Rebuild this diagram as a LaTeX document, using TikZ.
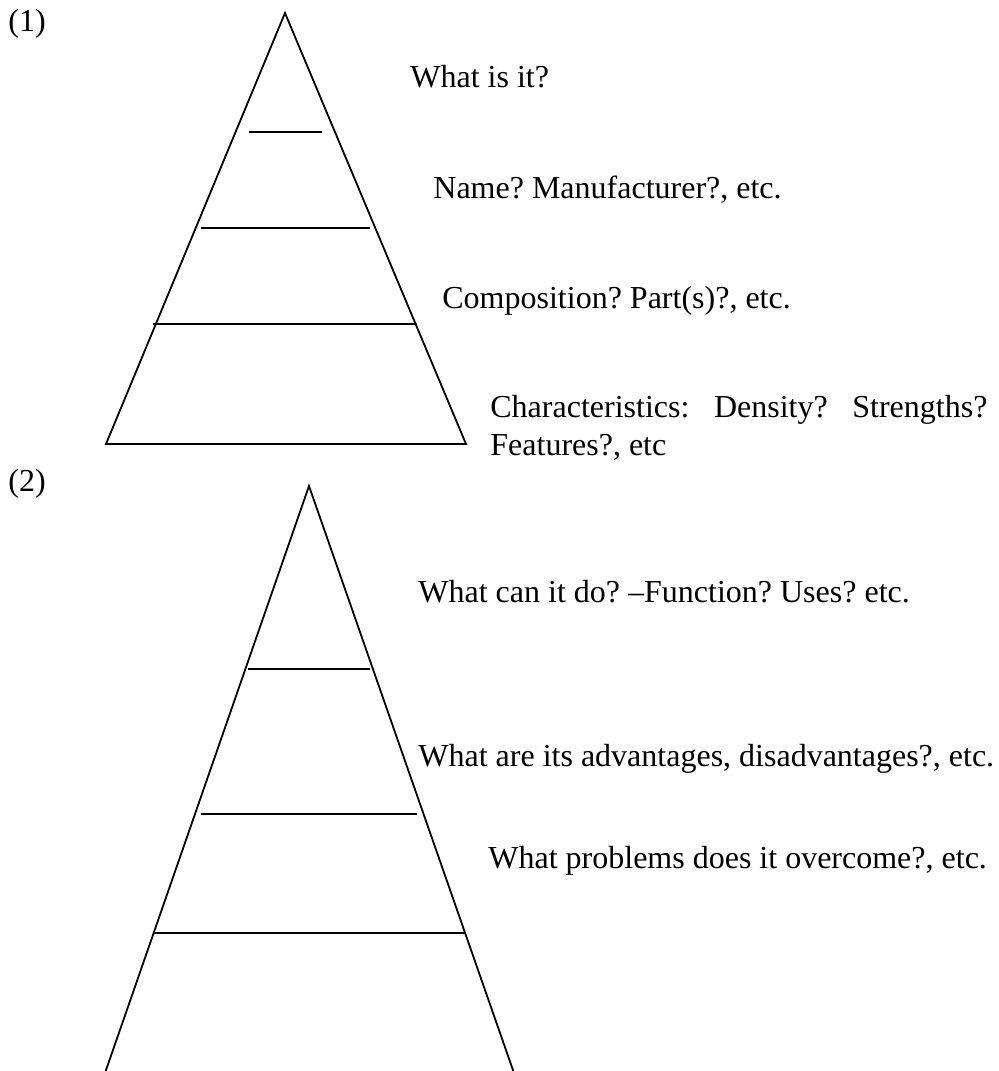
\documentclass[tikz,border=0pt]{standalone}
\usepackage{fontspec}
\setmainfont{Liberation Serif}
\begin{document}
\frenchspacing
\begin{tikzpicture}[x=0.5pt,y=-0.5pt,
  lbl/.style={anchor=base west, inner sep=0pt, font=\fontsize{16}{18.5}\selectfont\frenchspacing},
  edge/.style={line width=0.9pt, line join=miter},
  rung/.style={line width=1.1pt}]
\useasboundingbox (0,0) rectangle (998,1071);
% ---------- pyramid (1)
\coordinate (a1) at (285,13);
\coordinate (bl1) at (106,444);
\coordinate (br1) at (466,444);
\draw[edge] (a1) -- (br1) -- (bl1) -- cycle;
\draw[rung] (249,132) -- (322,132);
\draw[rung] (201,228) -- (370,228);
\draw[rung] (153,324) -- (417,324);
% ---------- pyramid (2)
\coordinate (a2) at (309,486);
\coordinate (bl2) at (105,1073);
\coordinate (br2) at (514,1073);
\draw[edge] (bl2) -- (a2) -- (br2);
\draw[rung] (248,669) -- (370,669);
\draw[rung] (201,814) -- (417,814);
\draw[rung] (153,933) -- (465,933);
% ---------- labels
\node[lbl] (n1) at (8,31) {(1)};
\node[lbl] (t1) at (410,87) {What is it?};
\node[lbl] (t2) at (433,198) {Name? Manufacturer?, etc.};
\node[lbl] (t3) at (442,308) {Composition? Part(s)?, etc.};
\node[lbl] (t4) at (490,417) {\hbox to 248.5pt{Characteristics:\hfill Density?\hfill Strengths?}};
\node[lbl] (t5) at (490,455) {Features?, etc};
\node[lbl] (n2) at (8,491) {(2)};
\node[lbl] (u1) at (418,602) {What can it do? –Function? Uses? etc.};
\node[lbl] (u2) at (418,766) {What are its advantages, disadvantages?, etc.};
\node[lbl] (u3) at (488,868) {What problems does it overcome?, etc.};
\end{tikzpicture}
\end{document}
